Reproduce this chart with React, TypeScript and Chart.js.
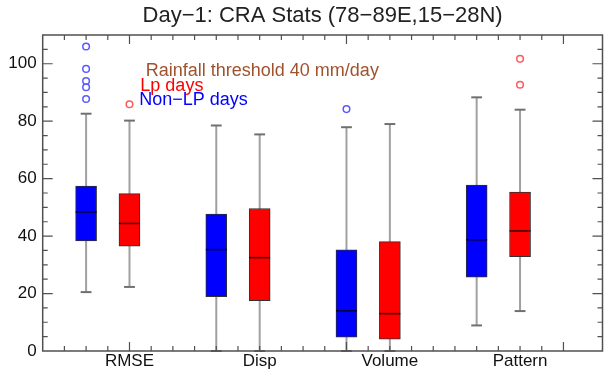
import React, { useEffect, useRef } from 'react';
import { Chart, registerables } from 'chart.js';

Chart.register(...registerables);

// ---------- data ----------
const categories = ['RMSE', 'Disp', 'Volume', 'Pattern'];

const nonLpMin = [20.5, 0, 0, 8.9];
const nonLpQ1 = [38.3, 18.9, 4.8, 25.7];
const nonLpMedian = [48.4, 35.3, 14.0, 38.7];
const nonLpQ3 = [57.4, 47.7, 35.2, 57.8];
const nonLpMax = [82.6, 78.5, 77.9, 88.3];
const nonLpOutliers = [[106, 98.2, 94, 91.8, 87.7], [], [84.2], []];

const lpMin = [22.3, 0, 0, 13.9];
const lpQ1 = [36.5, 17.5, 4.1, 32.8];
const lpMedian = [44.4, 32.5, 13.0, 41.8];
const lpQ3 = [54.8, 49.6, 38.1, 55.3];
const lpMax = [80.2, 75.4, 79.0, 84.0];
const lpOutliers = [[85.9], [], [], [101.7, 92.7]];

const yTickLabels = [0, 20, 40, 60, 80, 100];

const titleText = 'Day\u22121: CRA Stats (78\u221289E,15\u221228N)';
const noteTexts = ['Rainfall threshold 40 mm/day', 'Lp days', 'Non\u2212LP days'];

// ---------- layout / style ----------
const FONT = '"Liberation Sans", Arial, Helvetica, sans-serif';
const BLUE = '#0000ff';
const RED = '#ff0000';
const BROWN = '#a0522d';
const X_MAX = 25.8;
const Y_MAX = 110;
const slotX = (i: number, s: number) => 2 + 6 * i + 2 * s;
const noteAnchors = [
  { x: 4.75, y: 97.3, color: BROWN },
  { x: 4.5, y: 92.1, color: RED },
  { x: 4.45, y: 87.2, color: BLUE },
];

const series = [
  {
    name: 'Non-LP days',
    min: nonLpMin, q1: nonLpQ1, med: nonLpMedian, q3: nonLpQ3, max: nonLpMax, out: nonLpOutliers,
    fill: BLUE, outline: '#5a5aff', medianColor: '#000033',
  },
  {
    name: 'Lp days',
    min: lpMin, q1: lpQ1, med: lpMedian, q3: lpQ3, max: lpMax, out: lpOutliers,
    fill: RED, outline: '#ff5a5a', medianColor: '#330000',
  },
];

const boxPlugin = {
  id: 'boxParts',
  beforeDatasetsDraw(chart: any) {
    const { ctx, scales } = chart;
    const x = scales.x, y = scales.y;
    const capHalf = (x.getPixelForValue(1) - x.getPixelForValue(0)) * 0.25;
    ctx.save();
    series.forEach((s, si) => {
      categories.forEach((_, i) => {
        const px = x.getPixelForValue(slotX(i, si));
        const yl = y.getPixelForValue(s.min[i]);
        const yh = y.getPixelForValue(s.max[i]);
        ctx.strokeStyle = '#a0a0a0';
        ctx.lineWidth = 2;
        ctx.beginPath();
        ctx.moveTo(px, yl);
        ctx.lineTo(px, yh);
        ctx.stroke();
        ctx.strokeStyle = '#707070';
        [yl, yh].forEach((yy) => {
          ctx.beginPath();
          ctx.moveTo(px - capHalf, yy);
          ctx.lineTo(px + capHalf, yy);
          ctx.stroke();
        });
      });
    });
    ctx.restore();
  },
  afterDatasetsDraw(chart: any) {
    const { ctx, scales, chartArea } = chart;
    const x = scales.x, y = scales.y;
    const halfBox = (x.getPixelForValue(1) - x.getPixelForValue(0)) * 0.48;
    ctx.save();
    // medians
    series.forEach((s, si) => {
      categories.forEach((_, i) => {
        const px = x.getPixelForValue(slotX(i, si));
        const py = y.getPixelForValue(s.med[i]);
        ctx.strokeStyle = s.medianColor;
        ctx.lineWidth = 1.5;
        ctx.beginPath();
        ctx.moveTo(px - halfBox, py);
        ctx.lineTo(px + halfBox, py);
        ctx.stroke();
      });
    });
    // frame
    const { left, right, top, bottom } = chartArea;
    ctx.strokeStyle = '#505050';
    ctx.lineWidth = 1.5;
    ctx.strokeRect(left, top, right - left, bottom - top);
    // inward ticks
    ctx.lineWidth = 1.2;
    y.ticks.forEach((t: any) => {
      const v = t.value;
      if (v <= 0 || v >= Y_MAX) return;
      const py = y.getPixelForValue(v);
      const len = v % 20 === 0 ? 10 : 5;
      ctx.beginPath();
      ctx.moveTo(left, py); ctx.lineTo(left + len, py);
      ctx.moveTo(right, py); ctx.lineTo(right - len, py);
      ctx.stroke();
    });
    x.ticks.forEach((t: any) => {
      const v = t.value;
      if (v <= 0 || v >= X_MAX || !Number.isInteger(v)) return;
      const px = x.getPixelForValue(v);
      const len = (v - 4) % 10 === 0 ? 9 : 5;
      ctx.beginPath();
      ctx.moveTo(px, bottom); ctx.lineTo(px, bottom - len);
      ctx.moveTo(px, top); ctx.lineTo(px, top + len);
      ctx.stroke();
    });
    // notes
    ctx.font = `18px ${FONT}`;
    ctx.textAlign = 'left';
    ctx.textBaseline = 'middle';
    noteTexts.forEach((txt, k) => {
      const a = noteAnchors[k];
      ctx.fillStyle = a.color;
      ctx.fillText(txt, x.getPixelForValue(a.x), y.getPixelForValue(a.y));
    });
    ctx.restore();
  },
};

export default function App() {
  const ref = useRef<HTMLCanvasElement | null>(null);

  useEffect(() => {
    document.body.style.margin = '0';
    if (!ref.current) return;

    const boxDatasets = series.map((s, si) => ({
      type: 'bar' as const,
      label: s.name,
      data: categories.map((_, i) => ({ x: slotX(i, si), y: [s.q1[i], s.q3[i]] })),
      backgroundColor: s.fill,
      borderColor: '#303030',
      borderWidth: 1,
      borderSkipped: false,
      barThickness: 21,
      grouped: false,
      order: 2,
    }));

    const outlierDatasets = series.map((s, si) => ({
      type: 'scatter' as const,
      label: s.name + ' outliers',
      data: s.out.flatMap((vals, i) => vals.map((v) => ({ x: slotX(i, si), y: v }))),
      pointStyle: 'circle',
      pointRadius: 3.3,
      pointBorderWidth: 1.5,
      pointBorderColor: s.outline,
      pointBackgroundColor: 'rgba(0,0,0,0)',
      showLine: false,
      order: 1,
    }));

    const chart = new Chart(ref.current, {
      type: 'bar',
      data: { datasets: [...boxDatasets, ...outlierDatasets] as any },
      options: {
        responsive: false,
        animation: false,
        layout: { padding: { left: 0, right: 1.3, top: 0, bottom: 0 } },
        plugins: {
          legend: { display: false },
          tooltip: { enabled: false },
          title: {
            display: true,
            text: titleText,
            fullSize: false,
            color: '#222',
            font: { family: FONT, size: 22, weight: 'normal' },
            padding: { top: 2.5, bottom: 6.1 },
          },
        },
        scales: {
          x: {
            type: 'linear',
            offset: false,
            min: 0,
            max: X_MAX,
            grid: { display: false, drawTicks: false, offset: false },
            border: { display: false },
            afterFit: (s: any) => { s.height = 19; },
            ticks: {
              stepSize: 1,
              autoSkip: false,
              maxRotation: 0,
              minRotation: 0,
              padding: 0,
              color: '#111',
              font: { family: FONT, size: 17 },
              callback: (v: any) => {
                const idx = categories.findIndex((_, i) => slotX(i, 1) === v);
                return idx >= 0 ? categories[idx] : '';
              },
            },
          },
          y: {
            type: 'linear',
            min: 0,
            max: Y_MAX,
            grid: { display: false, drawTicks: false },
            border: { display: false },
            afterFit: (s: any) => { s.width = 42.7; },
            ticks: {
              stepSize: 5,
              autoSkip: false,
              padding: 6,
              color: '#111',
              font: { family: FONT, size: 17 },
              callback: (v: any) => (yTickLabels.includes(v) ? String(v) : ''),
            },
          },
        },
      },
      plugins: [boxPlugin],
    });

    return () => chart.destroy();
  }, []);

  return (
    <div style={{ width: 608, height: 370 }}>
      <canvas ref={ref} width={608} height={370} />
    </div>
  );
}
